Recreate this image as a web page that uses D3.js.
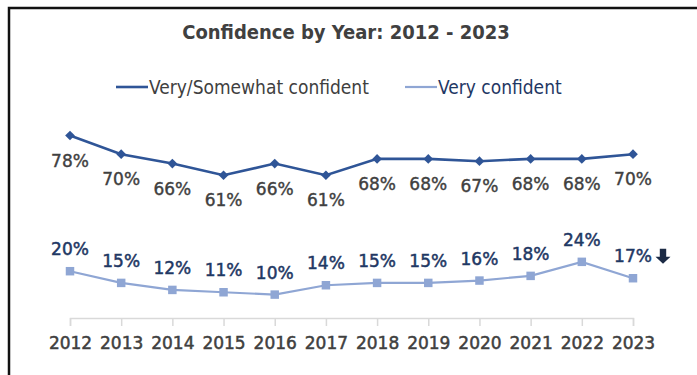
<!DOCTYPE html>
<html>
<head>
<meta charset="utf-8">
<script src="https://cdn.jsdelivr.net/npm/d3@7"></script>
<style>
  body { margin: 0; background: #fff; }
  svg { display: block; }
</style>
</head>
<body>
<div id="chart"></div>
<script>
// chart data
const years = ['2012', '2013', '2014', '2015', '2016', '2017', '2018', '2019', '2020', '2021', '2022', '2023'];
const verySomewhat = [78, 70, 66, 61, 66, 61, 68, 68, 67, 68, 68, 70];
const veryConfident = [20, 15, 12, 11, 10, 14, 15, 15, 16, 18, 24, 17];
const seriesNames = ['Very/Somewhat confident', 'Very confident'];
const chartTitle = 'Confidence by Year: 2012 - 2023';

const width = 697, height = 375;
const condensed = '"Liberation Sans Narrow", "DejaVu Sans Condensed", sans-serif';
const numFont = '"DejaVu Sans", sans-serif';

const darkBlue = '#2f5597', lightBlue = '#8fa6d4', navy = '#1f3864', gray = '#404040';

const svg = d3.select('#chart')
    .append('svg')
    .attr('width', width)
    .attr('height', height);

// frame
svg.append('rect')
    .attr('x', 9)
    .attr('y', 8)
    .attr('width', 720)
    .attr('height', 420)
    .attr('fill', 'none')
    .attr('stroke', '#111')
    .attr('stroke-width', 2.5);

// scales
const x = d3.scalePoint()
    .domain(years)
    .range([70, 633]);

const y = d3.scaleLinear()
    .domain([0, 100])
    .range([318, 84]);

// x axis
const axis = svg.append('g')
    .attr('transform', `translate(0,${y(0)})`)
    .call(d3.axisBottom(x).tickSizeOuter(0).tickSize(8).tickPadding(11));
axis.select('.domain').attr('stroke', '#d9d9d9').attr('stroke-width', 1.5);
axis.selectAll('.tick line').attr('stroke', '#d9d9d9').attr('stroke-width', 1.5);
axis.selectAll('.tick text')
    .attr('fill', gray)
    .attr('stroke', gray)
    .attr('stroke-width', 0.5)
    .style('font-family', numFont)
    .style('font-size', '17px');

// lines
const line = d3.line()
    .x((d, i) => x(years[i]))
    .y(d => y(d));

svg.append('path')
    .datum(veryConfident)
    .attr('fill', 'none')
    .attr('stroke', lightBlue)
    .attr('stroke-width', 2.2)
    .attr('d', line);

svg.append('path')
    .datum(verySomewhat)
    .attr('fill', 'none')
    .attr('stroke', darkBlue)
    .attr('stroke-width', 2.6)
    .attr('d', line);

// markers
const diamond = d3.symbol().type(d3.symbolDiamond2).size(60);
const square = d3.symbol().type(d3.symbolSquare).size(72);

svg.selectAll('.sq')
    .data(veryConfident)
    .enter()
    .append('path')
    .attr('class', 'sq')
    .attr('transform', (d, i) => `translate(${x(years[i])},${y(d)})`)
    .attr('d', square)
    .attr('fill', lightBlue);

svg.selectAll('.dm')
    .data(verySomewhat)
    .enter()
    .append('path')
    .attr('class', 'dm')
    .attr('transform', (d, i) => `translate(${x(years[i])},${y(d)})`)
    .attr('d', diamond)
    .attr('fill', darkBlue);

// data labels
svg.selectAll('.lab1')
    .data(verySomewhat)
    .enter()
    .append('text')
    .attr('x', (d, i) => x(years[i]))
    .attr('y', d => y(d) + 25)
    .attr('dy', '0.36em')
    .attr('text-anchor', 'middle')
    .attr('fill', gray)
    .attr('stroke', gray)
    .attr('stroke-width', 0.4)
    .style('font-family', numFont)
    .style('font-size', '17px')
    .text(d => d + '%');

svg.selectAll('.lab2')
    .data(veryConfident)
    .enter()
    .append('text')
    .attr('x', (d, i) => x(years[i]))
    .attr('y', d => y(d) - 22)
    .attr('dy', '0.36em')
    .attr('text-anchor', 'middle')
    .attr('fill', navy)
    .attr('stroke', navy)
    .attr('stroke-width', 0.5)
    .style('font-family', numFont)
    .style('font-size', '17px')
    .text(d => d + '%');

// down arrow beside the last value
const last = years.length - 1;
const ax = x(years[last]) + 30, ay = y(veryConfident[last]) - 22;
svg.append('path')
    .attr('transform', `translate(${ax},${ay})`)
    .attr('d', 'M-3.2,-7.5 L3.2,-7.5 L3.2,0.5 L7.5,0.5 L0,7.5 L-7.5,0.5 L-3.2,0.5 Z')
    .attr('fill', '#1c2b45');

// title
svg.append('text')
    .attr('x', 346)
    .attr('y', 39)
    .attr('text-anchor', 'middle')
    .attr('fill', gray)
    .style('font-family', condensed)
    .style('font-weight', 'bold')
    .style('font-size', '20px')
    .text(chartTitle);

// legend
const legend = [
    {name: seriesNames[0], x0: 116, color: darkBlue, sym: diamond, text: gray, sw: 2.6},
    {name: seriesNames[1], x0: 405, color: lightBlue, sym: square, text: navy, sw: 2.2}
];
const lg = svg.selectAll('.legend')
    .data(legend)
    .enter()
    .append('g')
    .attr('transform', d => `translate(${d.x0},87)`);
lg.append('line')
    .attr('x1', 0)
    .attr('x2', 32)
    .attr('stroke', d => d.color)
    .attr('stroke-width', d => d.sw);
lg.append('path')
    .attr('transform', 'translate(16,0)')
    .attr('d', d => d.sym)
    .attr('fill', d => d.color);
lg.append('text')
    .attr('x', 33)
    .attr('dy', '0.36em')
    .attr('fill', d => d.text)
    .style('font-family', condensed)
    .style('font-size', '19px')
    .text(d => d.name);
</script>
</body>
</html>
